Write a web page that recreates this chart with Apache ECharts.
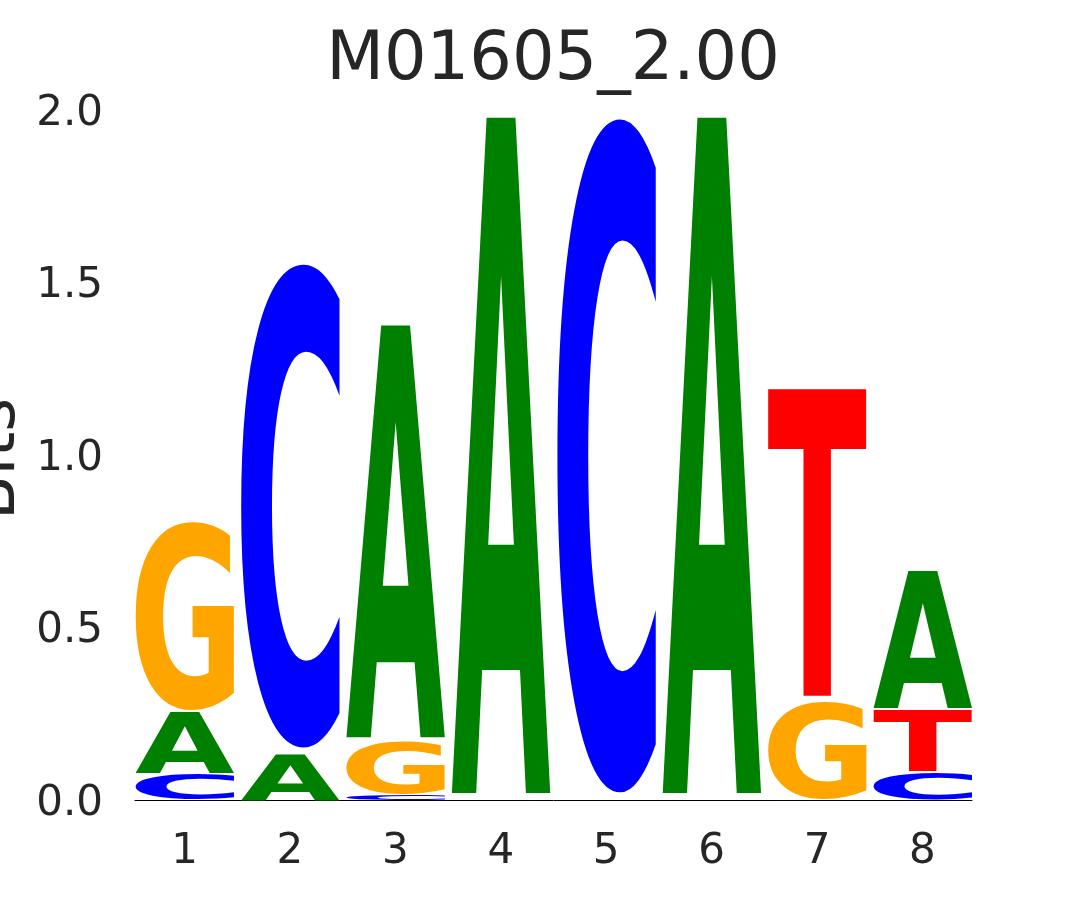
<!DOCTYPE html>
<html><head><meta charset="utf-8">
<script src="https://cdn.jsdelivr.net/npm/echarts@6/dist/echarts.min.js"></script>
<style>html,body{margin:0;padding:0;background:#fff}#chart{width:1080px;height:900px}</style>
</head><body><div id="chart"></div>
<script>
// ---- data ----
const titleText = 'M01605_2.00';
const yAxisName = 'Bits';
const positions = [1, 2, 3, 4, 5, 6, 7, 8];
const letters = ['A', 'C', 'G', 'T'];
const heightA = [0.180, 0.136, 1.219, 2.000, 0.000, 2.000, 0.000, 0.405];
const heightC = [0.077, 1.435, 0.016, 0.000, 2.000, 0.000, 0.000, 0.080];
const heightG = [0.557, 0.000, 0.154, 0.000, 0.000, 0.000, 0.287, 0.000];
const heightT = [0.000, 0.000, 0.000, 0.000, 0.000, 0.000, 0.914, 0.182];
const yTickValues = [0, 0.5, 1, 1.5, 2];

// ---- styles ----
const letterColors = { A: '#008000', C: '#0000ff', G: '#ffa500', T: '#ff0000' };
const LETTER_W = 0.94;   // fraction of a column
const VPAD = 0.02;       // vertical padding fraction of each letter
const GLYPH_SIZE = 200;
const GLYPH_FAMILY = 'DejaVu Sans';
const textColor = '#262626';

const heights = { A: heightA, C: heightC, G: heightG, T: heightT };
const logoData = [];
positions.forEach((p, i) => {
  const stack = letters.map((l, k) => ({ l, k, h: heights[l][i] }))
    .filter(o => o.h > 0).sort((a, b) => a.h - b.h);
  let base = 0;
  stack.forEach(o => { logoData.push([p, base, base + o.h, o.k]); base += o.h; });
});

// measure glyph ink boxes (relative to a 'middle' baseline, left aligned)
const cnv = document.createElement('canvas');
const ctx = cnv.getContext('2d');
ctx.font = 'bold ' + GLYPH_SIZE + 'px "' + GLYPH_FAMILY + '"';
ctx.textBaseline = 'middle';
ctx.textAlign = 'left';
const glyphBox = {};
letters.forEach(l => {
  const m = ctx.measureText(l);
  glyphBox[l] = { l: m.actualBoundingBoxLeft, r: m.actualBoundingBoxRight,
                  a: m.actualBoundingBoxAscent, d: m.actualBoundingBoxDescent };
});
// offset of baseline from middle for the axis-name font
const NAME_SIZE = 65;
ctx.font = NAME_SIZE + 'px "DejaVu Sans"';
const nameMid = ctx.measureText('B').actualBoundingBoxDescent;

const chart = echarts.init(document.getElementById('chart'), null, { renderer: 'canvas' });
chart.setOption({
  animation: false,
  backgroundColor: '#ffffff',
  title: {
    text: titleText, left: 553, top: 62, textAlign: 'center', textVerticalAlign: 'middle', padding: 0,
    textStyle: { fontSize: 67, fontFamily: 'DejaVu Sans', fontWeight: 'normal', color: textColor }
  },
  grid: { left: 135, right: 108, top: 110, bottom: 100 },
  xAxis: {
    type: 'value', min: 1 - LETTER_W / 2, max: 8 + LETTER_W / 2,
    axisLine: { show: true, lineStyle: { color: '#000000', width: 1 } },
    axisTick: { show: false }, splitLine: { show: false },
    axisLabel: {
      customValues: positions, formatter: v => String(v),
      fontSize: 42, lineHeight: 42, fontFamily: 'DejaVu Sans', color: textColor, margin: 31
    }
  },
  yAxis: {
    type: 'value', min: 0, max: 2, interval: 0.5,
    axisLine: { show: false }, axisTick: { show: false }, splitLine: { show: false },
    axisLabel: {
      customValues: yTickValues, formatter: v => v.toFixed(1),
      verticalAlign: 'top', lineHeight: 8,
      fontSize: 42, fontFamily: 'DejaVu Sans', color: textColor, margin: 32
    }
  },
  graphic: [{
    type: 'text', x: 14 - nameMid, y: 459, rotation: Math.PI / 2,
    style: { text: yAxisName, fontSize: NAME_SIZE, fontFamily: 'DejaVu Sans', fill: textColor,
             align: 'center', verticalAlign: 'middle' }
  }],
  series: [{
    type: 'custom', silent: true, clip: false, data: logoData,
    encode: { x: 0, y: [1, 2] },
    renderItem: function (params, api) {
      const x = api.value(0), b = api.value(1), t = api.value(2), k = api.value(3);
      const l = letters[k];
      const g = glyphBox[l];
      const pad = (t - b) * VPAD / 2;
      const tl = api.coord([x - LETTER_W / 2, t - pad]);
      const br = api.coord([x + LETTER_W / 2, b + pad]);
      const sx = (br[0] - tl[0]) / (g.l + g.r);
      const sy = (br[1] - tl[1]) / (g.a + g.d);
      return {
        type: 'text', x: tl[0] + sx * g.l, y: tl[1] + sy * g.a, scaleX: sx, scaleY: sy,
        style: { text: l, x: 0, y: 0, fontSize: GLYPH_SIZE, fontFamily: GLYPH_FAMILY, fontWeight: 'bold',
                 fill: letterColors[l], align: 'left', verticalAlign: 'middle' }
      };
    }
  }]
});
</script></body></html>
